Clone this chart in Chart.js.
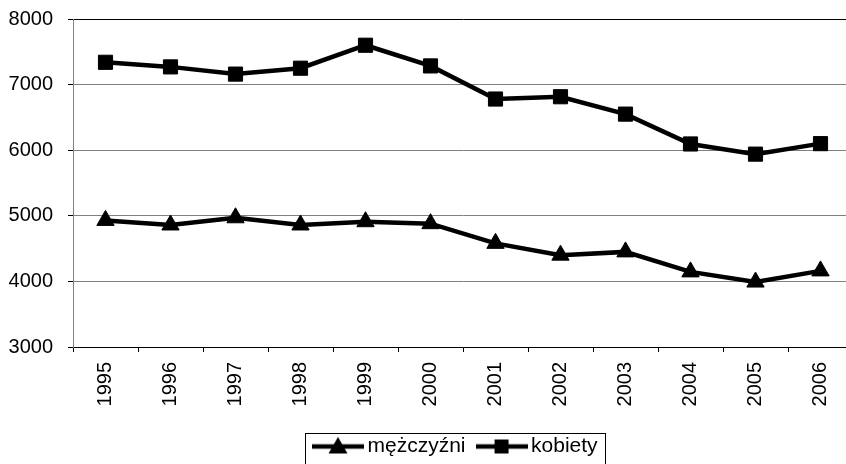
<!DOCTYPE html>
<html>
<head>
<meta charset="utf-8">
<script src="https://cdn.jsdelivr.net/npm/chart.js@4/dist/chart.umd.min.js"></script>
<style>
  html, body { margin: 0; padding: 0; background: #fff; overflow: hidden; }
  #wrap { width: 860px; height: 464px; }
</style>
</head>
<body>
<div id="wrap"><canvas id="c" width="860" height="464"></canvas></div>
<script>
const years = ['1995','1996','1997','1998','1999','2000','2001','2002','2003','2004','2005','2006'];
const mezczyzni = [4930, 4860, 4970, 4860, 4910, 4880, 4580, 4400, 4450, 4145, 3990, 4160];
const kobiety = [7340, 7270, 7160, 7250, 7600, 7285, 6780, 6815, 6550, 6095, 5940, 6100];
const yTicks = [3000, 4000, 5000, 6000, 7000, 8000];
const seriesNames = ['mężczyźni', 'kobiety'];

const FONT = '"Liberation Sans", Arial, sans-serif';
const LEGEND_LINE_START = 312;

function legendImage(style) {
  const cv = document.createElement('canvas');
  cv.width = 52; cv.height = 22;
  const g = cv.getContext('2d');
  g.strokeStyle = '#000'; g.lineWidth = 4.5;
  g.beginPath(); g.moveTo(0, 11); g.lineTo(52, 11); g.stroke();
  g.fillStyle = '#000';
  if (style === 'triangle') {
    g.beginPath(); g.moveTo(26, 1.5); g.lineTo(35.5, 18); g.lineTo(16.5, 18); g.closePath(); g.fill();
  } else {
    g.fillRect(19, 4, 14, 14);
  }
  return cv;
}
const legendImgs = [legendImage('triangle'), legendImage('rect')];

const legendPlace = {
  id: 'legendPlace',
  afterUpdate(chart) {
    const lg = chart.legend;
    if (!lg || !lg.legendHitBoxes || !lg.legendHitBoxes.length) return;
    const lineStart = lg.legendHitBoxes[0].left + 19 - 26;
    const dx = LEGEND_LINE_START - lineStart;
    lg.left += dx; lg.right += dx;
    lg.legendHitBoxes.forEach(h => { h.left += dx; });
  },
  afterDraw(chart) {
    const hb = chart.legend && chart.legend.legendHitBoxes;
    if (!hb || !hb.length) return;
    const first = hb[0], last = hb[hb.length - 1];
    const left = Math.round(first.left + 19 - 26 - 7) + 0.5;
    const right = Math.round(last.left + last.width + 7) + 0.5;
    const cy = first.top + first.height / 2;
    const ctx = chart.ctx;
    ctx.save();
    ctx.strokeStyle = '#000';
    ctx.lineWidth = 1;
    ctx.strokeRect(left, Math.round(cy - 14) + 0.5, right - left, 40);
    ctx.restore();
  }
};

new Chart(document.getElementById('c'), {
  type: 'line',
  data: {
    labels: years,
    datasets: [
      {
        label: seriesNames[0],
        data: mezczyzni,
        borderColor: '#000',
        backgroundColor: '#000',
        borderWidth: 4.5,
        pointStyle: 'triangle',
        pointRadius: 10,
        pointBorderWidth: 1,
        pointBackgroundColor: '#000',
        pointBorderColor: '#000',
        tension: 0
      },
      {
        label: seriesNames[1],
        data: kobiety,
        borderColor: '#000',
        backgroundColor: '#000',
        borderWidth: 4.5,
        pointStyle: 'rect',
        pointRadius: 10,
        pointBorderWidth: 1,
        pointBackgroundColor: '#000',
        pointBorderColor: '#000',
        tension: 0
      }
    ]
  },
  options: {
    responsive: false,
    animation: false,
    devicePixelRatio: 1,
    layout: { autoPadding: false, padding: { top: 19, right: 7, bottom: -3, left: 0 } },
    scales: {
      x: {
        offset: true,
        border: { display: true, color: '#000', width: 1 },
        grid: { offset: true, drawOnChartArea: false, drawTicks: true, tickLength: 5, color: '#000' },
        ticks: {
          minRotation: 90, maxRotation: 90, autoSkip: false, padding: 10,
          color: '#000', font: { family: FONT, size: 20 }
        },
        afterFit(scale) { scale.height = 72; scale.paddingLeft = 0; scale.paddingRight = 0; }
      },
      y: {
        min: 3000, max: 8000,
        border: { display: true, color: '#808080', width: 1 },
        grid: {
          color: (c) => (c.tick && c.tick.value === 8000) ? '#000' : '#808080',
          tickColor: '#000',
          tickLength: 5,
          drawTicks: true
        },
        afterBuildTicks(scale) { scale.ticks = yTicks.map(v => ({ value: v })); },
        ticks: {
          padding: 15, color: '#000', font: { family: FONT, size: 20 },
          callback: (v) => String(v)
        },
        afterFit(scale) { scale.width = 73; scale.paddingTop = 0; scale.paddingBottom = 0; }
      }
    },
    plugins: {
      tooltip: { enabled: false },
      legend: {
        position: 'bottom',
        labels: {
          usePointStyle: true,
          pointStyleWidth: 38,
          padding: 17,
          color: '#000',
          font: { family: FONT, size: 21 },
          generateLabels(chart) {
            const items = Chart.defaults.plugins.legend.labels.generateLabels(chart);
            items.forEach((it, i) => { it.pointStyle = legendImgs[i]; });
            return items;
          }
        }
      }
    }
  },
  plugins: [legendPlace]
});
</script>
</body>
</html>
